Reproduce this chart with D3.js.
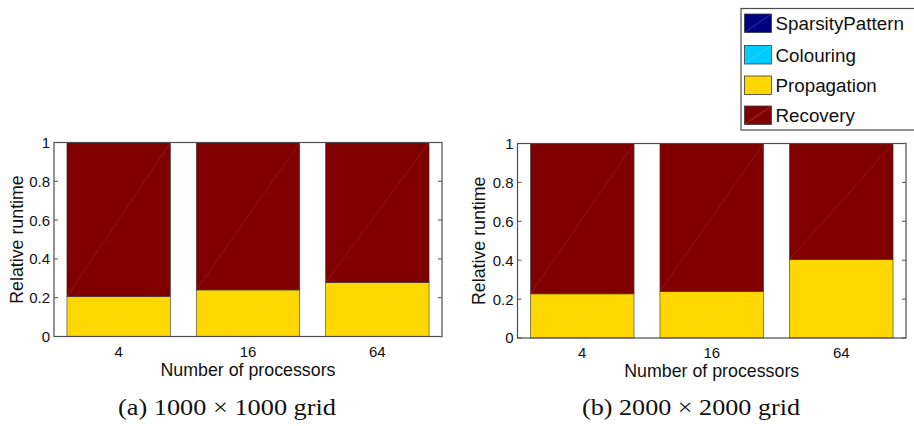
<!DOCTYPE html>
<html><head><meta charset="utf-8">
<script src="https://cdn.jsdelivr.net/npm/d3@7"></script>
<style>body{margin:0;background:#fff}svg{display:block}</style>
</head><body><svg id="c" width="914" height="426"></svg>
<script>
const categories = ["4", "16", "64"];
const seriesNames = ["SparsityPattern", "Colouring", "Propagation", "Recovery"];
const seriesColors = ["#000080", "#00ccff", "#ffd700", "#800000"];
// panel (a) 1000 x 1000 grid
const sparsityA = [0, 0, 0];
const colouringA = [0, 0, 0];
const propagationA = [0.206, 0.240, 0.278];
const recoveryA = [0.794, 0.760, 0.722];
// panel (b) 2000 x 2000 grid
const sparsityB = [0, 0, 0];
const colouringB = [0, 0, 0];
const propagationB = [0.227, 0.239, 0.403];
const recoveryB = [0.773, 0.761, 0.597];
const yTicks = [0, 0.2, 0.4, 0.6, 0.8, 1];
const yTickLabels = ["0", "0.2", "0.4", "0.6", "0.8", "1"];
const captions = ["(a) 1000 \u00d7 1000 grid", "(b) 2000 \u00d7 2000 grid"];

const svg = d3.select("#c");
const font = "'Liberation Sans', Arial, sans-serif";
const axisCol = "#4d4d4d";
const txtCol = "#111";

function panel(p, series, caption) {
  const g = svg.append("g");
  const x = d3.scaleBand().domain(categories).range([p.x0, p.x1]).paddingInner(0.2).paddingOuter(0.1);
  const y = d3.scaleLinear().domain([0, 1]).range([p.y0, p.y1]);
  const rows = categories.map((c, i) => {
    const r = {cat: c};
    seriesNames.forEach((s, k) => r[s] = series[k][i]);
    return r;
  });
  const stacked = d3.stack().keys(seriesNames)(rows);
  stacked.forEach((layer, k) => {
    layer.forEach(d => {
      const h = y(d[0]) - y(d[1]);
      if (h <= 0.01) return;
      const bx = x(d.data.cat), bw = x.bandwidth(), by = y(d[1]);
      g.append("rect").attr("x", bx).attr("y", by).attr("width", bw).attr("height", h)
        .attr("fill", seriesColors[k]).attr("stroke", "#3a3a3a").attr("stroke-width", 0.6);
      g.append("line").attr("x1", bx).attr("y1", by + h).attr("x2", bx + bw).attr("y2", by)
        .attr("stroke", "#ffffff").attr("stroke-opacity", 0.12).attr("stroke-width", 0.8);
    });
  });
  g.append("rect").attr("x", p.x0).attr("y", p.y1).attr("width", p.x1 - p.x0).attr("height", p.y0 - p.y1)
    .attr("fill", "none").attr("stroke", axisCol).attr("stroke-width", 1.2);
  yTicks.forEach((t, i) => {
    const yy = y(t);
    g.append("line").attr("x1", p.x0).attr("x2", p.x0 + 4).attr("y1", yy).attr("y2", yy).attr("stroke", axisCol);
    g.append("line").attr("x1", p.x1).attr("x2", p.x1 - 4).attr("y1", yy).attr("y2", yy).attr("stroke", axisCol);
    g.append("text").attr("x", p.x0 - 4).attr("y", yy).attr("dy", "0.36em").attr("text-anchor", "end")
      .attr("font-family", font).attr("font-size", 15).attr("fill", txtCol).text(yTickLabels[i]);
  });
  categories.forEach(c => {
    g.append("text").attr("x", x(c) + x.bandwidth() / 2).attr("y", p.y0 + 20).attr("text-anchor", "middle")
      .attr("font-family", font).attr("font-size", 15).attr("fill", txtCol).text(c);
  });
  g.append("text").attr("x", (p.x0 + p.x1) / 2).attr("y", p.y0 + 39).attr("text-anchor", "middle")
    .attr("font-family", font).attr("font-size", 17.8).attr("fill", txtCol).text("Number of processors");
  g.append("text").attr("transform", `translate(${p.lx},${(p.y0 + p.y1) / 2}) rotate(-90)`)
    .attr("text-anchor", "middle").attr("font-family", font).attr("font-size", 17.8).attr("fill", txtCol)
    .text("Relative runtime");
  g.append("text").attr("x", p.cx).attr("y", 415).attr("text-anchor", "middle")
    .attr("font-family", "'Liberation Serif', 'DejaVu Serif', serif").attr("font-size", 22.5).attr("fill", "#111")
    .attr("textLength", 218).attr("lengthAdjust", "spacingAndGlyphs")
    .text(caption);
}

panel({x0: 54, x1: 442, y0: 336.5, y1: 142.5, lx: 23, cx: 227},
  [sparsityA, colouringA, propagationA, recoveryA], captions[0]);
panel({x0: 517.5, x1: 906, y0: 338, y1: 143.5, lx: 485, cx: 691},
  [sparsityB, colouringB, propagationB, recoveryB], captions[1]);

const lg = svg.append("g");
lg.append("rect").attr("x", 741).attr("y", 8.5).attr("width", 180).attr("height", 121.5)
  .attr("fill", "#fff").attr("stroke", axisCol).attr("stroke-width", 1.2);
const legY = [14, 45.5, 76, 106];
seriesNames.forEach((s, k) => {
  const yy = legY[k];
  lg.append("rect").attr("x", 744.5).attr("y", yy).attr("width", 27).attr("height", 18.5)
    .attr("fill", seriesColors[k]).attr("stroke", "#3a3a3a").attr("stroke-width", 0.8);
  lg.append("line").attr("x1", 744.5).attr("y1", yy + 18.5).attr("x2", 771.5).attr("y2", yy)
    .attr("stroke", "#fff").attr("stroke-opacity", 0.25).attr("stroke-width", 0.8);
  lg.append("text").attr("x", 775.5).attr("y", yy + 9.5).attr("dy", "0.36em")
    .attr("font-family", font).attr("font-size", 18.8).attr("fill", txtCol).text(s);
});
</script></body></html>
